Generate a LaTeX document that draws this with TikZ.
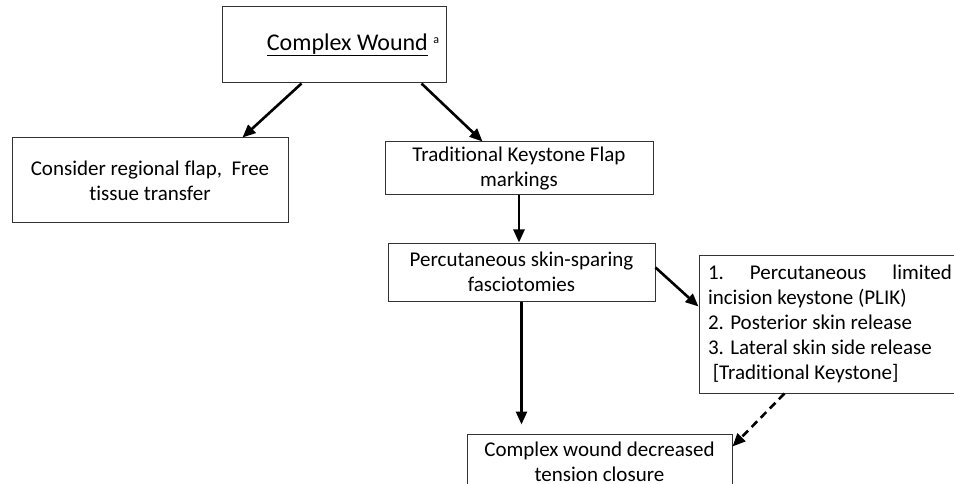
\documentclass[tikz,border=0pt]{standalone}
\usepackage{fontspec}
\setmainfont{Carlito}[Ligatures=NoCommon]
\usetikzlibrary{arrows.meta}
\tikzset{
  box/.style={draw=black!80, line width=1pt, align=center, inner sep=0pt,
    font=\fontsize{21}{25}\selectfont},
  flow/.style={line width=2.6pt, -{Triangle[length=13pt,width=11pt]}},
}
\begin{document}
\begin{tikzpicture}[x=1pt,y=1pt]
        \useasboundingbox (0,0) rectangle (954,-484);
        \clip (0,0) rectangle (954,-484);
        %Top box
        \node[box,minimum width=224pt,minimum height=76pt,font=\fontsize{24}{28}\selectfont] (wound) at (334,-45)
          {\hspace*{38pt}\underline{Complex Wound} \raisebox{7pt}{\fontsize{12}{12}\selectfont a}};
        %Second row
        \node[box,minimum width=276pt,minimum height=85pt] (regional) at (150,-180.5)
          {Consider regional flap,\ \ Free\\tissue transfer};
        \node[box,minimum width=268pt,minimum height=53pt] (markings) at (519,-168.5)
          {Traditional Keystone Flap\\markings};
        %Fasciotomies
        \node[box,minimum width=267pt,minimum height=58pt] (fascio) at (521.5,-272)
          {Percutaneous skin-sparing\\fasciotomies};
        %Release steps
        \node[box,minimum width=262pt,minimum height=138pt,text width=244pt,align=flush left] (release) at (830,-324)
          {1.\hfill Percutaneous\hfill limited\\incision keystone (PLIK)\\2. Posterior skin release\\3. Lateral skin side release\\\ [Traditional Keystone]};
        %Closure
        \node[box,minimum width=265pt,minimum height=56pt] (closure) at (599.5,-462)
          {Complex wound decreased\\tension closure};
        % Connectors
        \draw[flow] ([xshift=80pt]wound.south west) -- ([xshift=231pt]regional.north west);
        \draw[flow] ([xshift=200pt]wound.south west) -- ([xshift=98pt]markings.north west);
        \draw[flow] (markings.south) -- (markings.south |- fascio.north);
        \draw[flow] ([yshift=-25pt]fascio.north east) -- ([yshift=-52pt]release.north west);
        \draw[flow,shorten >=9pt] (fascio.south) -- (fascio.south |- closure.north);
        \draw[flow,dash pattern=on 8pt off 5pt] ([xshift=86pt]release.south west) -- ([yshift=-13pt]closure.north east);
      \end{tikzpicture}
\end{document}
